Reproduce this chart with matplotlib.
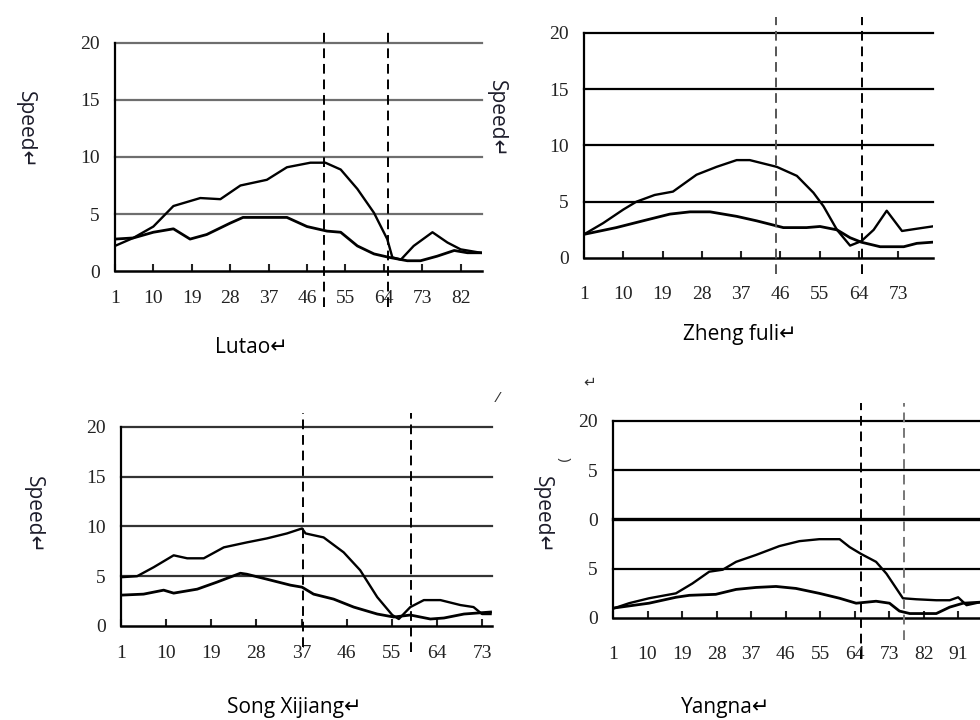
import matplotlib
matplotlib.use("Agg")
import matplotlib.pyplot as plt

# ---- data ----
lutao_up_x = [1, 5.3, 10, 14.7, 21, 25.7, 30.4, 36.6, 41.3, 46.8, 50.3, 53.9, 57.8, 61.7, 64.8, 66, 68, 71, 75.4, 78.9, 82, 86.7]
lutao_up_y = [2.2, 2.9, 3.9, 5.7, 6.4, 6.3, 7.5, 8.0, 9.1, 9.5, 9.5, 8.9, 7.2, 5.1, 2.8, 1.2, 1.0, 2.2, 3.4, 2.5, 1.9, 1.6]
lutao_lo_x = [1, 5.3, 10, 14.7, 18.6, 22.5, 28, 31, 36.6, 41.3, 46, 50.7, 53.9, 57.8, 61.7, 65.2, 69.5, 72.6, 76.5, 80.5, 83.6, 86.7]
lutao_lo_y = [2.8, 2.9, 3.4, 3.7, 2.8, 3.2, 4.2, 4.7, 4.7, 4.7, 3.9, 3.5, 3.4, 2.2, 1.5, 1.2, 0.9, 0.9, 1.3, 1.8, 1.6, 1.6]

zheng_up_x = [1, 5.4, 10, 13, 17.2, 21.4, 26.8, 31.4, 36, 39, 45.2, 49.8, 53.6, 55.9, 59, 62, 64.6, 67.4, 70.4, 73.9, 77.3, 80.8]
zheng_up_y = [2.1, 3.1, 4.3, 5.0, 5.6, 5.9, 7.4, 8.1, 8.7, 8.7, 8.1, 7.3, 5.8, 4.6, 2.5, 1.1, 1.5, 2.5, 4.2, 2.4, 2.6, 2.8]
zheng_lo_x = [1, 8.4, 14.5, 20.7, 25.3, 29.9, 36, 40.6, 46.7, 52, 55.1, 59, 62, 64.6, 68.9, 74.3, 77.3, 80.8]
zheng_lo_y = [2.1, 2.7, 3.3, 3.9, 4.1, 4.1, 3.7, 3.3, 2.7, 2.7, 2.8, 2.5, 1.8, 1.4, 1.0, 1.0, 1.3, 1.4]

song_up_x = [1, 4.2, 7.5, 11.5, 14.2, 17.5, 21.5, 26.1, 30.1, 34.1, 37.1, 37.8, 41.4, 45.4, 48.7, 52.1, 55.1, 56.4, 58.7, 61.4, 64.7, 68.7, 71.3, 73, 74.7]
song_up_y = [4.9, 5.0, 5.9, 7.1, 6.8, 6.8, 7.9, 8.4, 8.8, 9.3, 9.8, 9.3, 8.9, 7.4, 5.6, 2.9, 1.1, 0.7, 1.9, 2.6, 2.6, 2.1, 1.9, 1.2, 1.2]
song_lo_x = [1, 5.5, 9.5, 11.5, 16.2, 20.1, 24.8, 26.1, 30.1, 34.8, 37.1, 39.4, 43.4, 47.4, 52.1, 55.4, 58.7, 62.7, 65.4, 69.4, 74.7]
song_lo_y = [3.1, 3.2, 3.6, 3.3, 3.7, 4.4, 5.3, 5.2, 4.7, 4.1, 3.9, 3.2, 2.7, 1.9, 1.2, 0.9, 1.1, 0.7, 0.8, 1.2, 1.4]

yang_up_x = [1, 5.2, 10.4, 17.4, 21.7, 26.1, 29.6, 33.1, 38.3, 44.4, 49.6, 54.8, 60.1, 62.7, 65.7, 69.6, 72.3, 76.6, 80.1, 85.3, 88.8, 91, 93.2, 96.7]
yang_up_y = [0.95, 1.5, 2.0, 2.5, 3.5, 4.7, 4.9, 5.7, 6.4, 7.3, 7.8, 8.0, 8.0, 7.2, 6.5, 5.7, 4.5, 2.0, 1.9, 1.8, 1.8, 2.1, 1.3, 1.6]
yang_lo_x = [1, 10.4, 17.4, 20.9, 27.8, 33.1, 38.3, 43.5, 48.7, 54.8, 60.1, 64.4, 69.6, 73.1, 75.7, 78.4, 85.3, 88.8, 92.3, 96.7]
yang_lo_y = [1.0, 1.5, 2.1, 2.3, 2.4, 2.9, 3.1, 3.2, 3.0, 2.5, 2.0, 1.5, 1.7, 1.5, 0.7, 0.45, 0.45, 1.1, 1.5, 1.6]

yticks = [0, 5, 10, 15, 20]
ylabels_std = ["0", "5", "10", "15", "20"]
ylabels_yang = ["0", "5", "0", "5", "20"]   # as printed in the scan

SERIF = "Liberation Serif"
CAP = ["Open Sans", "DejaVu Sans"]


def panel(rect, xmax, xticks, vlines, up, lo, ylabels, grid_color, caption, cap_xy,
          speed_xy, vspan, vcolors=("black", "black"), pad=15):
    ax = fig.add_axes(rect)
    ax.set_xlim(1, xmax)
    ax.set_ylim(0, 20)
    for v in [5, 10, 15, 20]:
        lw = 2.4 if (ylabels is ylabels_yang and v == 10) else 1.6
        ax.axhline(v, color=grid_color, lw=lw, zorder=1, clip_on=False)
    ax.plot(up[0], up[1], color="black", lw=1.7, zorder=3)
    ax.plot(lo[0], lo[1], color="black", lw=2.0, zorder=3)
    for xv, (lo_f, hi_f), c in zip(vlines, vspan, vcolors):
        ax.axvline(xv, ymin=lo_f, ymax=hi_f, color=c, lw=1.4, ls=(0, (5, 3)),
                   clip_on=False, zorder=4)
    for s in ["top", "right"]:
        ax.spines[s].set_visible(False)
    ax.spines["left"].set_linewidth(1.6)
    ax.spines["bottom"].set_linewidth(1.8)
    ax.set_xticks(xticks)
    ax.set_xticklabels([str(t) for t in xticks], fontfamily=SERIF, fontsize=14)
    ax.set_yticks(yticks)
    ax.set_yticklabels(ylabels, fontfamily=SERIF, fontsize=14)
    ax.tick_params(axis="x", direction="in", length=5, width=1.5, pad=pad, colors="#222222")
    ax.tick_params(axis="y", length=0, pad=11, colors="#222222")
    fig.text(speed_xy[0], speed_xy[1], "Speed\u21b5", rotation=-90, ha="center", va="center",
             fontsize=15, family=CAP, color="#1c1c2a")
    fig.text(cap_xy[0], cap_xy[1], caption + "\u21b5", ha="center", va="center",
             fontsize=15, family=CAP, color="black")
    return ax


fig = plt.figure(figsize=(9.8, 7.2), dpi=100)

panel([0.1173, 0.6236, 0.3745, 0.3167], 87, [1, 10, 19, 28, 37, 46, 55, 64, 73, 82],
      [50, 65], (lutao_up_x, lutao_up_y), (lutao_lo_x, lutao_lo_y), ylabels_std, "#6e6e6e",
      "Lutao", (0.257, 0.518), (0.026, 0.82), [(-0.16, 1.05), (-0.16, 1.05)], pad=14)

panel([0.5959, 0.6417, 0.3561, 0.3125], 81, [1, 10, 19, 28, 37, 46, 55, 64, 73],
      [45, 64.7], (zheng_up_x, zheng_up_y), (zheng_lo_x, zheng_lo_y), ylabels_std, "black",
      "Zheng fuli", (0.755, 0.535), (0.507, 0.835), [(-0.07, 1.07), (-0.07, 1.07)],
      vcolors=("#555555", "black"), pad=20)

panel([0.1235, 0.1306, 0.3786, 0.2764], 75, [1, 10, 19, 28, 37, 46, 55, 64, 73],
      [37.3, 58.8], (song_up_x, song_up_y), (song_lo_x, song_lo_y), ylabels_std, "#333333",
      "Song Xijiang", (0.3, 0.018), (0.034, 0.285), [(-0.105, 1.07), (-0.13, 1.07)], pad=14)

panel([0.6255, 0.1417, 0.3745, 0.2736], 96.7, [1, 10, 19, 28, 37, 46, 55, 64, 73, 82, 91],
      [65.7, 76.9], (yang_up_x, yang_up_y), (yang_lo_x, yang_lo_y), ylabels_yang, "black",
      "Yangna", (0.74, 0.018), (0.553, 0.285), [(-0.21, 1.09), (-0.11, 1.09)],
      vcolors=("black", "#777777"), pad=20)

# stray marks from the scanned page
fig.text(0.602, 0.468, "\u21b5", fontsize=11, family=CAP, color="#333333", ha="center", va="center")
fig.text(0.508, 0.447, "/", fontsize=11, family=CAP, color="#333333", ha="center", va="center",
         style="italic")
fig.text(0.575, 0.362, ")", fontsize=11, family=CAP, color="#333333", ha="center", va="center",
         rotation=-90)

fig.savefig("out.png", dpi=100)
